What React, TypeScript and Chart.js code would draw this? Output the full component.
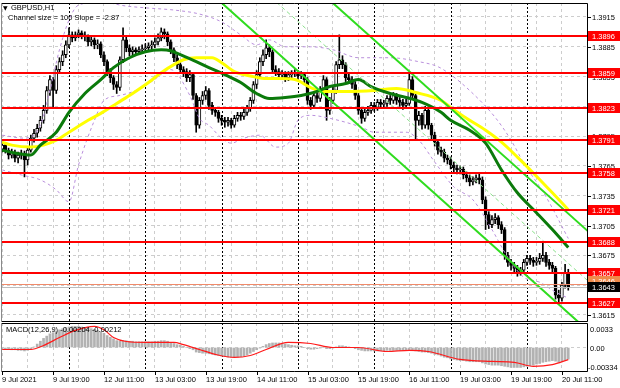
import React, { useEffect, useRef } from 'react';
import { Chart, registerables } from 'chart.js';
Chart.register(...registerables);

// ---------- data ----------
const timeLabels = ['9 Jul 2021', '9 Jul 19:00', '12 Jul 11:00', '13 Jul 03:00', '13 Jul 19:00', '14 Jul 11:00', '15 Jul 03:00', '15 Jul 19:00', '16 Jul 11:00', '19 Jul 03:00', '19 Jul 19:00', '20 Jul 11:00'];
const timeLabelBars = [0, 16, 32, 48, 64, 80, 96, 112, 128, 144, 160, 176];
const daySeparatorBars = [21, 45, 69, 93, 117, 141, 165];
const gridBars = [0, 8, 16, 24, 32, 40, 48, 56, 64, 72, 80, 88, 96, 104, 112, 120, 128, 136, 144, 152, 160, 168, 176, 184];
const priceTicks = [1.3615, 1.3645, 1.3675, 1.3705, 1.3735, 1.3765, 1.3795, 1.3825, 1.3855, 1.3885, 1.3915];
const levels = [1.3896, 1.3859, 1.3823, 1.3791, 1.3758, 1.3721, 1.3688, 1.3657, 1.3627];
const bidPrice = 1.3643;
const askPrice = 1.3646;

const opens = [
  1.3782, 1.3786, 1.3781, 1.3776, 1.3779, 1.3773, 1.3776, 1.3778, 1.3771, 1.3781,
  1.3793, 1.3798, 1.3803, 1.3811, 1.3821, 1.3841, 1.3852, 1.3841, 1.3862, 1.3870,
  1.3877, 1.3887, 1.3897, 1.3894, 1.3897, 1.3899, 1.3897, 1.3895, 1.3890, 1.3892,
  1.3887, 1.3888, 1.3877, 1.3870, 1.3860, 1.3854, 1.3847, 1.3844, 1.3872, 1.3892,
  1.3884, 1.3880, 1.3882, 1.3880, 1.3882, 1.3883, 1.3884, 1.3886, 1.3887, 1.3890,
  1.3894, 1.3900, 1.3898, 1.3890, 1.3882, 1.3874, 1.3867, 1.3862, 1.3860, 1.3854,
  1.3857, 1.3836, 1.3806, 1.3831, 1.3836, 1.3841, 1.3826, 1.3821, 1.3819, 1.3813,
  1.3811, 1.3809, 1.3811, 1.3806, 1.3813, 1.3816, 1.3815, 1.3819, 1.3823, 1.3831,
  1.3847, 1.3857, 1.3870, 1.3877, 1.3884, 1.3880, 1.3862, 1.3860, 1.3857, 1.3858,
  1.3854, 1.3857, 1.3858, 1.3859, 1.3856, 1.3857, 1.3852, 1.3831, 1.3826, 1.3836,
  1.3833, 1.3841, 1.3852, 1.3821, 1.3831, 1.3841, 1.3867, 1.3872, 1.3867, 1.3854,
  1.3852, 1.3847, 1.3836, 1.3821, 1.3813, 1.3819, 1.3821, 1.3826, 1.3824, 1.3829,
  1.3827, 1.3828, 1.3833, 1.3831, 1.3836, 1.3831, 1.3829, 1.3826, 1.3828, 1.3852,
  1.3836, 1.3811, 1.3816, 1.3806, 1.3821, 1.3806, 1.3796, 1.3789, 1.3781, 1.3779,
  1.3773, 1.3771, 1.3766, 1.3763, 1.3761, 1.3762, 1.3756, 1.3753, 1.3749, 1.3751,
  1.3753, 1.3751, 1.3731, 1.3716, 1.3706, 1.3711, 1.3713, 1.3706, 1.3701, 1.3675,
  1.3668, 1.3665, 1.3662, 1.3658, 1.3660, 1.3668, 1.3672, 1.3670, 1.3668, 1.3669,
  1.3672, 1.3675, 1.3668, 1.3665, 1.3662, 1.3635, 1.3632, 1.3645, 1.3658,
];
const highs = [
  1.3789, 1.3788, 1.3783, 1.3782, 1.3781, 1.3779, 1.3781, 1.3780, 1.3784, 1.3796,
  1.3802, 1.3807, 1.3815, 1.3826, 1.3845, 1.3856, 1.3854, 1.3866, 1.3874, 1.3881,
  1.3891, 1.3904, 1.3900, 1.3900, 1.3902, 1.3901, 1.3900, 1.3897, 1.3895, 1.3894,
  1.3892, 1.3890, 1.3880, 1.3872, 1.3863, 1.3856, 1.3850, 1.3875, 1.3904, 1.3895,
  1.3887, 1.3885, 1.3884, 1.3885, 1.3887, 1.3888, 1.3889, 1.3891, 1.3894, 1.3898,
  1.3904, 1.3903, 1.3900, 1.3892, 1.3884, 1.3877, 1.3869, 1.3865, 1.3863, 1.3861,
  1.3859, 1.3838, 1.3834, 1.3840, 1.3845, 1.3843, 1.3829, 1.3824, 1.3821, 1.3816,
  1.3814, 1.3814, 1.3813, 1.3816, 1.3819, 1.3819, 1.3822, 1.3826, 1.3834, 1.3850,
  1.3861, 1.3874, 1.3882, 1.3892, 1.3887, 1.3882, 1.3866, 1.3863, 1.3861, 1.3860,
  1.3860, 1.3861, 1.3862, 1.3861, 1.3860, 1.3859, 1.3854, 1.3834, 1.3839, 1.3839,
  1.3845, 1.3856, 1.3854, 1.3834, 1.3845, 1.3870, 1.3897, 1.3876, 1.3869, 1.3858,
  1.3855, 1.3850, 1.3838, 1.3823, 1.3822, 1.3825, 1.3829, 1.3829, 1.3832, 1.3832,
  1.3831, 1.3836, 1.3836, 1.3839, 1.3838, 1.3834, 1.3832, 1.3832, 1.3859, 1.3855,
  1.3838, 1.3820, 1.3818, 1.3825, 1.3823, 1.3808, 1.3799, 1.3791, 1.3784, 1.3782,
  1.3776, 1.3774, 1.3769, 1.3766, 1.3765, 1.3764, 1.3759, 1.3756, 1.3754, 1.3756,
  1.3757, 1.3754, 1.3734, 1.3719, 1.3715, 1.3717, 1.3715, 1.3709, 1.3703, 1.3678,
  1.3671, 1.3668, 1.3665, 1.3663, 1.3671, 1.3675, 1.3675, 1.3673, 1.3673, 1.3677,
  1.3688, 1.3678, 1.3671, 1.3668, 1.3664, 1.3640, 1.3648, 1.3666, 1.3661,
];
const lows = [
  1.3779, 1.3778, 1.3772, 1.3773, 1.3769, 1.3768, 1.3772, 1.3754, 1.3766, 1.3779,
  1.3789, 1.3794, 1.3800, 1.3808, 1.3818, 1.3836, 1.3824, 1.3838, 1.3858, 1.3866,
  1.3874, 1.3884, 1.3890, 1.3891, 1.3894, 1.3893, 1.3891, 1.3886, 1.3886, 1.3883,
  1.3883, 1.3874, 1.3866, 1.3856, 1.3849, 1.3842, 1.3838, 1.3841, 1.3869, 1.3880,
  1.3876, 1.3877, 1.3876, 1.3877, 1.3879, 1.3880, 1.3881, 1.3882, 1.3884, 1.3887,
  1.3891, 1.3893, 1.3886, 1.3878, 1.3870, 1.3863, 1.3858, 1.3855, 1.3850, 1.3850,
  1.3832, 1.3799, 1.3803, 1.3827, 1.3832, 1.3822, 1.3817, 1.3815, 1.3809, 1.3806,
  1.3804, 1.3805, 1.3803, 1.3804, 1.3810, 1.3811, 1.3812, 1.3816, 1.3820, 1.3828,
  1.3843, 1.3853, 1.3866, 1.3873, 1.3875, 1.3858, 1.3856, 1.3853, 1.3853, 1.3850,
  1.3851, 1.3853, 1.3855, 1.3852, 1.3853, 1.3848, 1.3827, 1.3822, 1.3823, 1.3829,
  1.3830, 1.3838, 1.3811, 1.3817, 1.3828, 1.3838, 1.3863, 1.3863, 1.3850, 1.3848,
  1.3843, 1.3832, 1.3817, 1.3808, 1.3810, 1.3816, 1.3818, 1.3820, 1.3821, 1.3823,
  1.3824, 1.3825, 1.3827, 1.3828, 1.3827, 1.3825, 1.3822, 1.3823, 1.3826, 1.3832,
  1.3791, 1.3806, 1.3802, 1.3803, 1.3802, 1.3792, 1.3785, 1.3777, 1.3775, 1.3769,
  1.3767, 1.3762, 1.3759, 1.3757, 1.3757, 1.3752, 1.3749, 1.3745, 1.3746, 1.3748,
  1.3747, 1.3727, 1.3701, 1.3702, 1.3703, 1.3707, 1.3702, 1.3697, 1.3671, 1.3664,
  1.3660, 1.3658, 1.3654, 1.3655, 1.3657, 1.3665, 1.3666, 1.3664, 1.3665, 1.3666,
  1.3669, 1.3664, 1.3661, 1.3658, 1.3631, 1.3627, 1.3629, 1.3642, 1.3640,
];
const closes = [
  1.3786, 1.3781, 1.3776, 1.3779, 1.3773, 1.3776, 1.3778, 1.3771, 1.3781, 1.3793,
  1.3798, 1.3803, 1.3811, 1.3821, 1.3841, 1.3852, 1.3841, 1.3862, 1.3870, 1.3877,
  1.3887, 1.3897, 1.3894, 1.3897, 1.3899, 1.3897, 1.3895, 1.3890, 1.3892, 1.3887,
  1.3888, 1.3877, 1.3870, 1.3860, 1.3854, 1.3847, 1.3844, 1.3872, 1.3892, 1.3884,
  1.3880, 1.3882, 1.3880, 1.3882, 1.3883, 1.3884, 1.3886, 1.3887, 1.3890, 1.3894,
  1.3900, 1.3898, 1.3890, 1.3882, 1.3874, 1.3867, 1.3862, 1.3860, 1.3854, 1.3857,
  1.3836, 1.3806, 1.3831, 1.3836, 1.3841, 1.3826, 1.3821, 1.3819, 1.3813, 1.3811,
  1.3809, 1.3811, 1.3806, 1.3813, 1.3816, 1.3815, 1.3819, 1.3823, 1.3831, 1.3847,
  1.3857, 1.3870, 1.3877, 1.3884, 1.3880, 1.3862, 1.3860, 1.3857, 1.3858, 1.3854,
  1.3857, 1.3858, 1.3859, 1.3856, 1.3857, 1.3852, 1.3831, 1.3826, 1.3836, 1.3833,
  1.3841, 1.3852, 1.3821, 1.3831, 1.3841, 1.3867, 1.3872, 1.3867, 1.3854, 1.3852,
  1.3847, 1.3836, 1.3821, 1.3813, 1.3819, 1.3821, 1.3826, 1.3824, 1.3829, 1.3827,
  1.3828, 1.3833, 1.3831, 1.3836, 1.3831, 1.3829, 1.3826, 1.3828, 1.3852, 1.3836,
  1.3811, 1.3816, 1.3806, 1.3821, 1.3806, 1.3796, 1.3789, 1.3781, 1.3779, 1.3773,
  1.3771, 1.3766, 1.3763, 1.3761, 1.3762, 1.3756, 1.3753, 1.3749, 1.3751, 1.3753,
  1.3751, 1.3731, 1.3716, 1.3706, 1.3711, 1.3713, 1.3706, 1.3701, 1.3675, 1.3668,
  1.3665, 1.3662, 1.3658, 1.3660, 1.3668, 1.3672, 1.3670, 1.3668, 1.3669, 1.3672,
  1.3675, 1.3668, 1.3665, 1.3662, 1.3635, 1.3632, 1.3645, 1.3658, 1.3643,
];

// moving averages (read at sampled bars)
const greenMaBars = [0, 4, 9, 12, 17, 21, 26, 31, 35, 40, 45, 50, 53, 56, 61, 65, 70, 75, 80, 84, 89, 94, 98, 103, 108, 112, 116, 122, 127, 132, 138, 141, 147, 152, 157, 162, 168, 173, 178];
const greenMaValues = [1.3781, 1.3778, 1.3776, 1.3786, 1.3799, 1.3819, 1.3838, 1.3852, 1.3864, 1.3874, 1.3880, 1.3882, 1.3881, 1.3877, 1.3870, 1.3864, 1.3857, 1.3849, 1.3838, 1.3833, 1.3834, 1.3836, 1.3839, 1.3845, 1.3848, 1.3852, 1.3845, 1.3838, 1.3834, 1.3829, 1.3819, 1.3811, 1.3801, 1.3788, 1.3761, 1.3738, 1.3718, 1.3701, 1.3683];
const yellowMaBars = [0, 3, 9, 13, 17, 21, 27, 31, 36, 41, 46, 50, 54, 57, 61, 66, 69, 73, 79, 83, 87, 92, 97, 101, 108, 117, 124, 130, 138, 141, 146, 152, 157, 162, 167, 173, 178];
const yellowMaValues = [1.3789, 1.3786, 1.3784, 1.3786, 1.3791, 1.3799, 1.3811, 1.3818, 1.3828, 1.3838, 1.3849, 1.3859, 1.3867, 1.3872, 1.3874, 1.3874, 1.3869, 1.3860, 1.3855, 1.3853, 1.3853, 1.3852, 1.3844, 1.3840, 1.3840, 1.3841, 1.3843, 1.3839, 1.3831, 1.3824, 1.3813, 1.3801, 1.3789, 1.3774, 1.3758, 1.3738, 1.3721];

// bands
const upperBandBars = [0, 7, 12, 15, 18, 21, 24, 31, 39, 46, 54, 62, 69, 75, 80, 84, 89, 97, 104, 112, 122, 131, 137, 141, 147, 155, 160, 164, 171, 178];
const upperBandValues = [1.3796, 1.3793, 1.3806, 1.3841, 1.3882, 1.3912, 1.3927, 1.3930, 1.3926, 1.3924, 1.3922, 1.3918, 1.3910, 1.3897, 1.3887, 1.3892, 1.3885, 1.3885, 1.3882, 1.3874, 1.3874, 1.3870, 1.3865, 1.3857, 1.3841, 1.3814, 1.3791, 1.3768, 1.3734, 1.3692];
const lowerBandBars = [0, 6, 12, 17, 21, 24, 29, 32, 37, 42, 47, 53, 59, 62, 65, 69, 72, 76, 81, 86, 90, 93, 97, 103, 108, 113, 117, 127, 131, 136, 142, 148, 154, 159, 164, 169, 174, 178];
const lowerBandValues = [1.3761, 1.3756, 1.3751, 1.3741, 1.3729, 1.3766, 1.3811, 1.3831, 1.3836, 1.3841, 1.3850, 1.3862, 1.3836, 1.3813, 1.3806, 1.3793, 1.3788, 1.3793, 1.3796, 1.3784, 1.3788, 1.3811, 1.3816, 1.3813, 1.3809, 1.3804, 1.3799, 1.3799, 1.3791, 1.3769, 1.3744, 1.3731, 1.3701, 1.3673, 1.3653, 1.3648, 1.3638, 1.3632];

// regression channel (size 100, slope -2.87)
const channelBars = [60, 185];
const channelUpper = [1.4055, 1.3697];
const channelMiddle = [1.4005, 1.3647];
const channelLower = [1.3955, 1.3597];

// MACD
const macdHistogram = [
  -0.0002, -0.0003, -0.0003, -0.0004, -0.0004, -0.0005, -0.0005, -0.0006, -0.0005, -0.0003,
  0.0001, 0.0006, 0.0011, 0.0016, 0.0020,
  0.0024, 0.0026, 0.0028, 0.0031, 0.0033, 0.0035,
  0.0036, 0.0037, 0.0037, 0.0037, 0.0036, 0.0035, 0.0034, 0.0033, 0.0032, 0.0030,
  0.0028, 0.0025, 0.0021, 0.0018, 0.0015, 0.0012, 0.0011,
  0.0012, 0.0012, 0.0011, 0.0011, 0.0010, 0.0010, 0.0010, 0.0010, 0.0010, 0.0010, 0.0011, 0.0011, 0.0012, 0.0012, 0.0011, 0.0009, 0.0007, 0.0005,
  0.0004, 0.0002, 0.0000, -0.0002, -0.0004,
  -0.0008, -0.0009, -0.0010, -0.0010, -0.0011, -0.0012, -0.0013, -0.0014,
  -0.0015, -0.0016, -0.0017, -0.0017, -0.0017, -0.0017, -0.0016, -0.0015,
  -0.0013, -0.0010, -0.0007, -0.0004, -0.0001, 0.0002,
  0.0005, 0.0007, 0.0008, 0.0008, 0.0008, 0.0007, 0.0006, 0.0005,
  0.0004, 0.0003, 0.0003, 0.0002, 0.0000, -0.0002, -0.0003, -0.0003, -0.0002, -0.0001,
  0.0000, -0.0002, -0.0002, -0.0001, 0.0001, 0.0003, 0.0003, 0.0002, 0.0001, 0.0000,
  -0.0002, -0.0004, -0.0005, -0.0006, -0.0006, -0.0006, -0.0006, -0.0006, -0.0006, -0.0006,
  -0.0005, -0.0005, -0.0005, -0.0005, -0.0005, -0.0005, -0.0005, -0.0004, -0.0004, -0.0006, -0.0007,
  -0.0008, -0.0008, -0.0009, -0.0010, -0.0012, -0.0013, -0.0015, -0.0017, -0.0018, -0.0020,
  -0.0021, -0.0022, -0.0023, -0.0023, -0.0024, -0.0025, -0.0025, -0.0025, -0.0025, -0.0027,
  -0.0029, -0.0030, -0.0031, -0.0031, -0.0031, -0.0032, -0.0033, -0.0034, -0.0035, -0.0035,
  -0.0035, -0.0035, -0.0034, -0.0033, -0.0032, -0.0031, -0.0029, -0.0028, -0.0026, -0.0025,
  -0.0024, -0.0023, -0.0024, -0.0026, -0.0025, -0.0022, -0.00204,
];
const signalBars = [0, 9, 13, 18, 23, 29, 32, 35, 39, 45, 54, 57, 62, 67, 73, 78, 83, 90, 97, 104, 112, 121, 128, 134, 144, 154, 161, 167, 173, 178];
const signalValues = [-0.00035, -0.00035, 0.00035, 0.00175, 0.0030, 0.0037, 0.0031, 0.00175, 0.00105, 0.0009, 0.0009, 0.0005, -0.00035, -0.0012, -0.00175, -0.0014, -0.00035, 0.0009, 0.0007, 0.0, 0.0, -0.0007, -0.0005, -0.0007, -0.0021, -0.00245, -0.0026, -0.0033, -0.0030, -0.00212];
const macdTicks = [0.0033, 0, -0.00334];
const macdTickLabels = ['0.0033', '0.00', '-0.00334'];

// ---------- layout / style ----------
const X_MIN = -0.38;
const X_MAX = 184.2;
const Y_MIN = 1.360794;
const Y_MAX = 1.392909;
const M_MIN = -0.0043;
const M_MAX = 0.0043;
const FONT = '7.5px "Liberation Sans", Arial, sans-serif';
const GRID = '#cdcdcd';
const BAND = '#b98fdc';

const pts = (xs: number[], ys: number[]) => xs.map((x, k) => ({ x, y: ys[k] }));

function xScaleOptions() {
  return {
    type: 'linear',
    min: X_MIN,
    max: X_MAX,
    offset: false,
    afterBuildTicks: (s: any) => { s.ticks = gridBars.map((v) => ({ value: v })); },
    afterFit: (s: any) => { s.height = 0; },
    ticks: { display: false },
    grid: { color: GRID, drawTicks: false, offset: false },
    border: { display: false, dash: [3, 3] },
  };
}

function drawSeparators(chart: any) {
  const { ctx, chartArea: a, scales } = chart;
  ctx.save();
  ctx.strokeStyle = '#000';
  ctx.lineWidth = 1;
  ctx.setLineDash([2, 2]);
  for (const b of daySeparatorBars) {
    const x = Math.round(scales.x.getPixelForValue(b)) + 0.5;
    ctx.beginPath();
    ctx.moveTo(x, a.top);
    ctx.lineTo(x, a.bottom);
    ctx.stroke();
  }
  ctx.restore();
}

function drawFrame(chart: any) {
  const { ctx, chartArea: a } = chart;
  ctx.save();
  ctx.setLineDash([]);
  ctx.lineWidth = 1;
  ctx.strokeStyle = '#000';
  ctx.beginPath();
  ctx.moveTo(a.left, a.top + 0.5);
  ctx.lineTo(a.right - 0.5, a.top + 0.5);
  ctx.lineTo(a.right - 0.5, a.bottom - 0.5);
  ctx.lineTo(a.left, a.bottom - 0.5);
  ctx.stroke();
  ctx.strokeStyle = '#8a8a8a';
  ctx.beginPath();
  ctx.moveTo(a.left + 0.5, a.top);
  ctx.lineTo(a.left + 0.5, a.bottom);
  ctx.stroke();
  ctx.restore();
}

function priceBox(ctx: any, y: number, text: string, bg: string, fg: string) {
  ctx.fillStyle = bg;
  ctx.fillRect(588, Math.round(y) - 5, 32, 10);
  ctx.fillStyle = fg;
  ctx.fillText(text, 592, Math.round(y) + 0.5);
}

const mainPlugin = {
  id: 'mainDecor',
  beforeDatasetsDraw(chart: any) {
    drawSeparators(chart);
  },
  afterDatasetsDraw(chart: any) {
    const { ctx, chartArea: a, scales } = chart;
    const ys = scales.y;
    ctx.save();
    ctx.setLineDash([]);
    ctx.lineWidth = 1;
    ctx.strokeStyle = '#bdbdbd';
    let y = Math.round(ys.getPixelForValue(bidPrice)) + 0.5;
    ctx.beginPath(); ctx.moveTo(a.left, y); ctx.lineTo(a.right, y); ctx.stroke();
    ctx.strokeStyle = '#f08a6a';
    y = Math.round(ys.getPixelForValue(askPrice)) + 0.5;
    ctx.beginPath(); ctx.moveTo(a.left, y); ctx.lineTo(a.right, y); ctx.stroke();
    ctx.strokeStyle = '#ff0000';
    ctx.lineWidth = 2;
    for (const lv of levels) {
      const yy = Math.round(ys.getPixelForValue(lv));
      ctx.beginPath(); ctx.moveTo(a.left, yy); ctx.lineTo(a.right, yy); ctx.stroke();
    }
    ctx.restore();
    drawFrame(chart);
  },
  afterDraw(chart: any) {
    const { ctx, scales } = chart;
    const ys = scales.y;
    ctx.save();
    ctx.font = FONT;
    ctx.textBaseline = 'middle';
    ctx.textAlign = 'left';
    ctx.strokeStyle = '#000';
    ctx.lineWidth = 1;
    for (const v of priceTicks) {
      const y = Math.round(ys.getPixelForValue(v)) + 0.5;
      ctx.beginPath(); ctx.moveTo(588, y); ctx.lineTo(591, y); ctx.stroke();
      ctx.fillStyle = '#000';
      ctx.fillText(v.toFixed(4), 592, y);
    }
    for (const lv of levels) priceBox(ctx, ys.getPixelForValue(lv), lv.toFixed(4), '#ff0000', '#ffffff');
    priceBox(ctx, ys.getPixelForValue(askPrice) - 3, askPrice.toFixed(4), '#f08a4a', '#ffffff');
    priceBox(ctx, ys.getPixelForValue(bidPrice), bidPrice.toFixed(4), '#000000', '#ffffff');
    ctx.fillStyle = '#000';
    ctx.font = '6px "DejaVu Sans", sans-serif';
    ctx.fillText('▼', 3, 8);
    ctx.font = FONT;
    ctx.fillText('GBPUSD,H1', 11, 8);
    ctx.fillText('Channel size = 100 Slope = -2.87', 8, 18);
    ctx.restore();
  },
};

const macdPlugin = {
  id: 'macdDecor',
  beforeDatasetsDraw(chart: any) {
    drawSeparators(chart);
  },
  afterDatasetsDraw(chart: any) {
    drawFrame(chart);
  },
  afterDraw(chart: any) {
    const { ctx, chartArea: a, scales } = chart;
    ctx.save();
    ctx.font = FONT;
    ctx.textBaseline = 'middle';
    ctx.textAlign = 'left';
    ctx.fillStyle = '#000';
    macdTicks.forEach((v, k) => {
      const y = Math.round(scales.y.getPixelForValue(v)) + 0.5;
      ctx.fillText(macdTickLabels[k], k === 2 ? 588 : 590, y);
    });
    ctx.strokeStyle = '#000';
    ctx.lineWidth = 1;
    timeLabelBars.forEach((b, k) => {
      const x = Math.round(scales.x.getPixelForValue(b)) + 0.5;
      ctx.beginPath(); ctx.moveTo(x, a.bottom); ctx.lineTo(x, a.bottom + 3); ctx.stroke();
      ctx.fillText(timeLabels[k], x - 0.5, a.bottom + 8);
    });
    ctx.fillText('MACD(12,26,9) -0.00204 -0.00212', 6, 7);
    ctx.restore();
  },
};

export default function App() {
  const mainRef = useRef<HTMLCanvasElement>(null);
  const macdRef = useRef<HTMLCanvasElement>(null);

  useEffect(() => {
    const idx = closes.map((_, i) => i);
    const wickData = idx.map((i) => ({ x: i, y: [lows[i], highs[i]] }));
    const bodyData = idx.map((i) => ({ x: i, y: [opens[i], closes[i]] }));
    const bodyFill = idx.map((i) => (closes[i] >= opens[i] ? '#ffffff' : '#000000'));

    const main = new Chart(mainRef.current as HTMLCanvasElement, {
      type: 'bar',
      data: {
        datasets: [
          { type: 'bar', data: wickData as any, backgroundColor: '#000', barThickness: 1, grouped: false, order: 10 } as any,
          { type: 'bar', data: bodyData as any, backgroundColor: bodyFill, borderColor: '#000', borderWidth: 1, borderSkipped: false, barThickness: 3, grouped: false, order: 9 } as any,
          { type: 'line', data: pts(upperBandBars, upperBandValues), borderColor: BAND, borderWidth: 1, borderDash: [3, 3], pointRadius: 0, cubicInterpolationMode: 'monotone', order: 6 } as any,
          { type: 'line', data: pts(lowerBandBars, lowerBandValues), borderColor: BAND, borderWidth: 1, borderDash: [3, 3], pointRadius: 0, cubicInterpolationMode: 'monotone', order: 6 } as any,
          { type: 'line', data: pts(yellowMaBars, yellowMaValues), borderColor: '#ffff00', borderWidth: 3, pointRadius: 0, cubicInterpolationMode: 'monotone', order: 4 } as any,
          { type: 'line', data: pts(greenMaBars, greenMaValues), borderColor: '#0b7a0b', borderWidth: 3, pointRadius: 0, cubicInterpolationMode: 'monotone', order: 3 } as any,
          { type: 'line', data: pts(channelBars, channelUpper), borderColor: '#2fdc1e', borderWidth: 2, pointRadius: 0, order: 2 } as any,
          { type: 'line', data: pts(channelBars, channelMiddle), borderColor: '#8be08b', borderWidth: 1, borderDash: [4, 3], pointRadius: 0, order: 2 } as any,
          { type: 'line', data: pts(channelBars, channelLower), borderColor: '#2fdc1e', borderWidth: 2, pointRadius: 0, order: 2 } as any,
        ],
      },
      options: {
        animation: false,
        responsive: false,
        devicePixelRatio: 1,
        events: [],
        layout: { padding: { left: 1, right: 0, top: 3, bottom: 1 } },
        plugins: { legend: { display: false }, tooltip: { enabled: false } },
        scales: {
          x: xScaleOptions() as any,
          y: {
            type: 'linear',
            position: 'right',
            min: Y_MIN,
            max: Y_MAX,
            afterBuildTicks: (s: any) => { s.ticks = priceTicks.map((v) => ({ value: v })); },
            afterFit: (s: any) => { s.width = 32; },
            ticks: { display: false },
            grid: { color: GRID, drawTicks: false },
            border: { display: false, dash: [3, 3] },
          } as any,
        },
      },
      plugins: [mainPlugin],
    } as any);

    const macd = new Chart(macdRef.current as HTMLCanvasElement, {
      type: 'bar',
      data: {
        datasets: [
          { type: 'bar', data: macdHistogram.map((v, i) => ({ x: i, y: v })), backgroundColor: '#b2b2b2', barThickness: 2, grouped: false, order: 2 } as any,
          { type: 'line', data: pts(signalBars, signalValues), borderColor: '#ff1a1a', borderWidth: 1.2, pointRadius: 0, cubicInterpolationMode: 'monotone', order: 1 } as any,
        ],
      },
      options: {
        animation: false,
        responsive: false,
        devicePixelRatio: 1,
        events: [],
        layout: { padding: { left: 1, right: 0, top: 0, bottom: 16 } },
        plugins: { legend: { display: false }, tooltip: { enabled: false } },
        scales: {
          x: xScaleOptions() as any,
          y: {
            type: 'linear',
            position: 'right',
            min: M_MIN,
            max: M_MAX,
            afterBuildTicks: (s: any) => { s.ticks = [{ value: 0 }]; },
            afterFit: (s: any) => { s.width = 32; },
            ticks: { display: false },
            grid: { color: GRID, drawTicks: false },
            border: { display: false, dash: [3, 3] },
          } as any,
        },
      },
      plugins: [macdPlugin],
    } as any);

    return () => {
      main.destroy();
      macd.destroy();
    };
  }, []);

  return (
    <div style={{ position: 'fixed', left: 0, top: 0, width: 620, height: 388, background: '#ffffff', overflow: 'hidden' }}>
      <canvas ref={mainRef} width={620} height={323} style={{ position: 'absolute', left: 0, top: 0, width: 620, height: 323 }} />
      <canvas ref={macdRef} width={620} height={65} style={{ position: 'absolute', left: 0, top: 323, width: 620, height: 65 }} />
    </div>
  );
}
